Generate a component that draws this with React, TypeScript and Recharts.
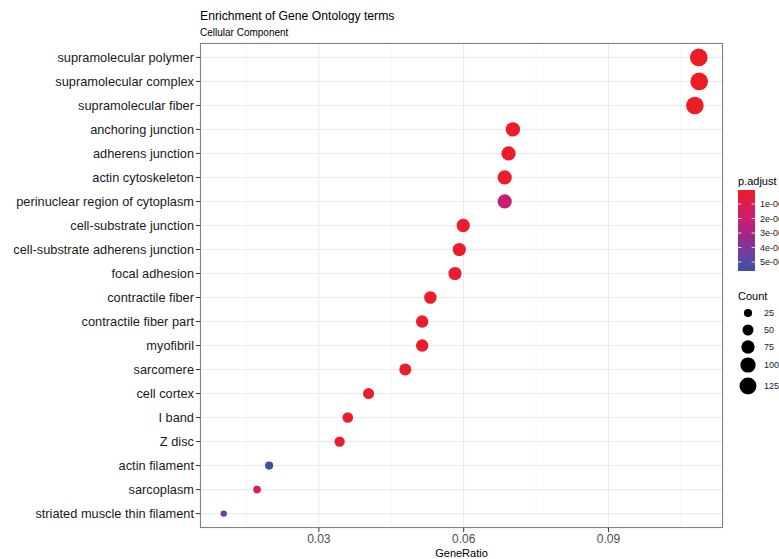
import React from 'react';
import { ScatterChart, Scatter, XAxis, YAxis, ZAxis, CartesianGrid, ReferenceLine, Cell } from 'recharts';

const terms = [
  'supramolecular polymer',
  'supramolecular complex',
  'supramolecular fiber',
  'anchoring junction',
  'adherens junction',
  'actin cytoskeleton',
  'perinuclear region of cytoplasm',
  'cell-substrate junction',
  'cell-substrate adherens junction',
  'focal adhesion',
  'contractile fiber',
  'contractile fiber part',
  'myofibril',
  'sarcomere',
  'cell cortex',
  'I band',
  'Z disc',
  'actin filament',
  'sarcoplasm',
  'striated muscle thin filament',
];
const geneRatio = [0.1087, 0.1088, 0.1079, 0.0702, 0.0693, 0.0685, 0.0685, 0.0599, 0.0591, 0.0582, 0.0531, 0.0514, 0.0514, 0.0479, 0.0403, 0.036, 0.0343, 0.0197, 0.0172, 0.0103];
const counts = [136, 136, 135, 88, 87, 86, 86, 75, 74, 73, 66, 64, 64, 60, 50, 45, 43, 25, 21, 13];
const pAdjust = [3.4e-8, 3.6e-8, 5.1e-8, 1.2e-7, 1.5e-7, 1.6e-7, 2.0e-6, 2.2e-7, 2.6e-7, 2.8e-7, 1.1e-7, 1.9e-7, 1.9e-7, 2.4e-7, 3.1e-7, 1.8e-7, 2.9e-7, 5.62e-6, 1.26e-6, 4.28e-6];

const xTicks = [0.03, 0.06, 0.09];
const xMinorTicks = [0.015, 0.045, 0.075, 0.105];
const xDomain: [number, number] = [0.005375, 0.113725];
const pTicks = [1e-6, 2e-6, 3e-6, 4e-6, 5e-6];
const pTickLabels = ['1e-06', '2e-06', '3e-06', '4e-06', '5e-06'];
const countBreaks = [25, 50, 75, 100, 125];

// style: colour gradient stops (t=0 low p.adjust -> t=1 high)
const colourStops: [number, string][] = [
  [0, '#EE1C25'],
  [0.22, '#D61E5A'],
  [0.38, '#C51F72'],
  [0.58, '#9C2788'],
  [0.78, '#6F3F9F'],
  [1, '#3A53A4'],
];
const zRange: [number, number] = [9.42, 268.6];
const zDomain: [number, number] = [0, 150];

const pMin = Math.min(...pAdjust);
const pMax = Math.max(...pAdjust);

function hexToRgb(h: string) {
  const n = parseInt(h.slice(1), 16);
  return [(n >> 16) & 255, (n >> 8) & 255, n & 255];
}
function colourAt(t: number) {
  t = Math.max(0, Math.min(1, t));
  for (let i = 0; i < colourStops.length - 1; i++) {
    const [t0, c0] = colourStops[i];
    const [t1, c1] = colourStops[i + 1];
    if (t <= t1) {
      const f = (t - t0) / (t1 - t0);
      const a = hexToRgb(c0);
      const b = hexToRgb(c1);
      const r = a.map((v, k) => Math.round(v + (b[k] - v) * f));
      return `rgb(${r[0]},${r[1]},${r[2]})`;
    }
  }
  return colourStops[colourStops.length - 1][1];
}
const pColour = (p: number) => colourAt((p - pMin) / (pMax - pMin));

const rows = terms.map((term, i) => ({
  term,
  y: terms.length - i,
  x: geneRatio[i],
  count: counts[i],
  p: pAdjust[i],
}));
const yTicks = rows.map((r) => r.y);

const radiusFor = (c: number) => {
  const area = zRange[0] + ((zRange[1] - zRange[0]) * (c - zDomain[0])) / (zDomain[1] - zDomain[0]);
  return Math.sqrt(area / Math.PI);
};

const W = 779;
const H = 559;
const panel = { left: 200, top: 43, right: 723, bottom: 528 };
const bar = { x: 738, y: 190, w: 17, h: 81 };
const sizeLegendY = [313, 330, 347, 365, 386];

const YTick = (props: any) => {
  const { x, y, payload } = props;
  return (
    <text x={x} y={y} dy="0.36em" textAnchor="end" fontSize={12.8} fill="#1A1A1A">
      {terms[terms.length - payload.value]}
    </text>
  );
};

export default function App() {
  return (
    <div style={{ position: 'absolute', left: 0, top: 0, width: W, height: H, fontFamily: '"Liberation Sans", Arial, sans-serif', background: '#fff' }}>
      <ScatterChart width={W} height={H} margin={{ top: panel.top, right: W - panel.right, bottom: 0, left: 0 }}>
        <CartesianGrid stroke="#EBEBEB" strokeWidth={1.1} />
        {xMinorTicks.map((v) => (
          <ReferenceLine key={v} x={v} stroke="#F2F2F2" strokeWidth={0.7} />
        ))}
        <XAxis
          dataKey="x"
          type="number"
          domain={xDomain}
          ticks={xTicks}
          allowDataOverflow
          height={H - panel.bottom}
          axisLine={false}
          tickSize={4}
          tickMargin={2}
          tickLine={{ stroke: '#333333' }}
          tick={{ fontSize: 12, fill: '#4D4D4D' }}
          tickFormatter={(v: number) => v.toFixed(2)}
        />
        <YAxis
          dataKey="y"
          type="number"
          domain={[0.4, terms.length + 0.6]}
          ticks={yTicks}
          interval={0}
          allowDataOverflow
          width={panel.left}
          axisLine={false}
          tickSize={4}
          tickMargin={2}
          tickLine={{ stroke: '#333333' }}
          tick={<YTick />}
        />
        <ZAxis dataKey="count" type="number" domain={zDomain} range={zRange} />
        <Scatter data={rows} isAnimationActive={false}>
          {rows.map((r) => (
            <Cell key={r.term} fill={pColour(r.p)} />
          ))}
        </Scatter>
      </ScatterChart>
      <svg width={W} height={H} style={{ position: 'absolute', left: 0, top: 0, pointerEvents: 'none' }}>
        <defs>
          <linearGradient id="pgrad" x1="0" y1="0" x2="0" y2="1">
            {colourStops.map(([t, c]) => (
              <stop key={t} offset={t} stopColor={c} />
            ))}
          </linearGradient>
        </defs>
        <text x={200} y={20} fontSize={12.2} fill="#000">Enrichment of Gene Ontology terms</text>
        <text x={200} y={36} fontSize={10} fill="#000">Cellular Component</text>
        <rect x={panel.left + 0.5} y={panel.top + 0.5} width={panel.right - panel.left - 1} height={panel.bottom - panel.top - 1} fill="none" stroke="#808080" strokeWidth={1} />
        <text x={(panel.left + panel.right) / 2} y={557} fontSize={11} textAnchor="middle" fill="#000">GeneRatio</text>

        <text x={738} y={185} fontSize={11} fill="#000">p.adjust</text>
        <rect x={bar.x} y={bar.y} width={bar.w} height={bar.h} fill="url(#pgrad)" />
        {pTicks.map((p, i) => {
          const y = bar.y + ((p - pMin) / (pMax - pMin)) * bar.h;
          return (
            <g key={p}>
              <line x1={bar.x} x2={bar.x + 3.4} y1={y} y2={y} stroke="#fff" strokeOpacity={0.8} strokeWidth={1} />
              <line x1={bar.x + bar.w - 3.4} x2={bar.x + bar.w} y1={y} y2={y} stroke="#fff" strokeOpacity={0.8} strokeWidth={1} />
              <text x={760} y={y} fontSize={9} fill="#1A1A1A" dominantBaseline="central">{pTickLabels[i]}</text>
            </g>
          );
        })}

        <text x={738} y={300} fontSize={11} fill="#000">Count</text>
        {countBreaks.map((c, i) => (
          <g key={c}>
            <circle cx={748} cy={sizeLegendY[i]} r={radiusFor(c)} fill="#000" />
            <text x={764} y={sizeLegendY[i]} fontSize={9} fill="#1A1A1A" dominantBaseline="central">{c}</text>
          </g>
        ))}
      </svg>
    </div>
  );
}
